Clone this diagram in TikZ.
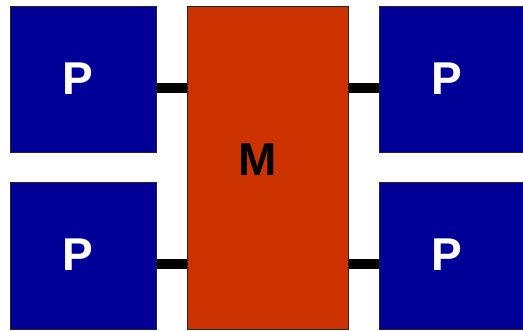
\documentclass[tikz,border=0pt]{standalone}
\usepackage{fontspec}
\setmainfont{Liberation Sans}
\usepackage{xcolor}
\usetikzlibrary{positioning,calc}
\definecolor{pblue}{HTML}{000099}
\definecolor{morange}{HTML}{CC3300}

\begin{document}
\begin{tikzpicture}[x=1pt,y=1pt,
  font=\bfseries\fontsize{46}{46}\selectfont,
  proc/.style={draw=black!85,line width=1pt,fill=pblue,inner sep=0pt,minimum width=146pt,minimum height=146pt,
    label={[text=white,xshift=-5pt,yshift=1pt]center:P}},
  mem/.style={draw=black!85,line width=1pt,fill=morange,inner sep=0pt,minimum width=161pt,minimum height=322pt,
    label={[text=black,xshift=-9.5pt,yshift=8pt]center:M}},
  bar/.style={line width=10pt}
]
\useasboundingbox (0,0) rectangle (523,330);
\node[proc] (p1) at (83,250) {};
\node[proc] (p2) at (83,74) {};
\node[mem] (m) at (267.5,162) {};
\node[proc] (p3) at (452,250) {};
\node[proc] (p4) at (452,74) {};
\draw[bar] ([yshift=-8pt]p1.east) -- ([yshift=-8pt]p1.east -| m.west);
\draw[bar] ([yshift=-8pt]p2.east) -- ([yshift=-8pt]p2.east -| m.west);
\draw[bar] ([yshift=-8pt]m.east |- p3.west) -- ([yshift=-8pt]p3.west);
\draw[bar] ([yshift=-8pt]m.east |- p4.west) -- ([yshift=-8pt]p4.west);
\end{tikzpicture}
\end{document}
